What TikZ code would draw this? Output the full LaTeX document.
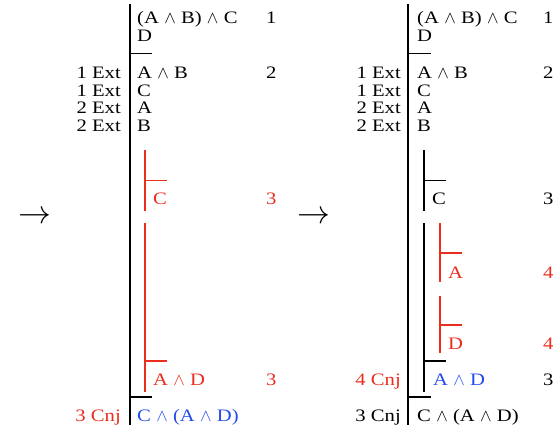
\documentclass[tikz,border=0pt]{standalone}
\usepackage{fontspec}
\setmainfont{Liberation Serif}[FakeStretch=1.18]
\definecolor{oldred}{RGB}{235,45,30}
\definecolor{newblue}{RGB}{35,75,235}
\newcommand{\conj}{$\mkern1.5mu{}\wedge{}\mkern1.5mu$}

\begin{document}
\begin{tikzpicture}[x=1pt, y=-1pt,
  fml/.style={anchor=base west, inner sep=0pt, font=\fontsize{17.5}{17.5}\selectfont},
  why/.style={anchor=base east, inner sep=0pt, font=\fontsize{17.5}{17.5}\selectfont},
  num/.style={anchor=base west, inner sep=0pt, font=\fontsize{17.5}{17.5}\selectfont},
  bar/.style={line width=1.2pt},
  step arrow/.style={inner sep=0pt, font=\fontsize{17.5}{17.5}\selectfont}
]
\useasboundingbox (0,0) rectangle (557,425);

% left proof
\node[step arrow] (larrow) at (34.5,217) {\scalebox{1.9}{$\rightarrow$}};
\draw[bar] (130,4) -- (130,425);
\draw[bar] (130,53.5) -- (152,53.5);
\node[fml] (lp1) at (137,24) {(A\conj B)\conj C};
\node[num] at (266,24) {1};
\node[fml] (lp2) at (137,41.5) {D};
\node[num] at (266,79) {2};
\foreach \y/\r/\f in {79/1 Ext/A\conj B, 96.5/1 Ext/C, 114/2 Ext/A, 131.5/2 Ext/B} {
  \node[why] at (121,\y) {\r};
  \node[fml] at (137,\y) {\f};
}
\begin{scope}[oldred]
  \draw[bar] (145,150) -- (145,211);
  \draw[bar] (145,180.7) -- (167,180.7);
  \node[fml] (lc) at (153,204.5) {C};
  \node[num] at (266,204.5) {3};
  \draw[bar] (145,223) -- (145,392);
  \draw[bar] (145,361) -- (167,361);
  \node[fml] (lad) at (153,385) {A\conj D};
  \node[num] at (266,385) {3};
  \node[why] at (121,421) {3 Cnj};
\end{scope}
\draw[bar] (130,397) -- (152,397);
\node[fml, newblue] (lres) at (137,421) {C\conj(A\conj D)};

% right proof
\node[step arrow] (rarrow) at (313.5,217) {\scalebox{1.9}{$\rightarrow$}};
\draw[bar] (408,4) -- (408,425);
\draw[bar] (408,53.5) -- (431,53.5);
\node[fml] (rp1) at (417,24) {(A\conj B)\conj C};
\node[num] at (543,24) {1};
\node[fml] (rp2) at (417,41.5) {D};
\node[num] at (543,79) {2};
\foreach \y/\r/\f in {79/1 Ext/A\conj B, 96.5/1 Ext/C, 114/2 Ext/A, 131.5/2 Ext/B} {
  \node[why] at (401,\y) {\r};
  \node[fml] at (417,\y) {\f};
}
\draw[bar] (424,150) -- (424,211);
\draw[bar] (424,180.7) -- (446,180.7);
\node[fml] (rc) at (432,204.5) {C};
\node[num] at (543,204.5) {3};
\draw[bar] (424,223) -- (424,392);
\begin{scope}[oldred]
  \draw[bar] (440,223) -- (440,282);
  \draw[bar] (440,253) -- (462,253);
  \node[fml] (ra) at (448,278) {A};
  \node[num] at (543,278) {4};
  \draw[bar] (440,296) -- (440,353);
  \draw[bar] (440,325) -- (462,325);
  \node[fml] (rd) at (448,349) {D};
  \node[num] at (543,349) {4};
  \node[why] at (401,385) {4 Cnj};
\end{scope}
\draw[bar] (424,361) -- (446,361);
\node[fml, newblue] (rad) at (433,385) {A\conj D};
\node[num] at (543,385) {3};
\draw[bar] (408,397) -- (431,397);
\node[why] at (401,421) {3 Cnj};
\node[fml] (rres) at (417,421) {C\conj(A\conj D)};
\end{tikzpicture}
\end{document}
